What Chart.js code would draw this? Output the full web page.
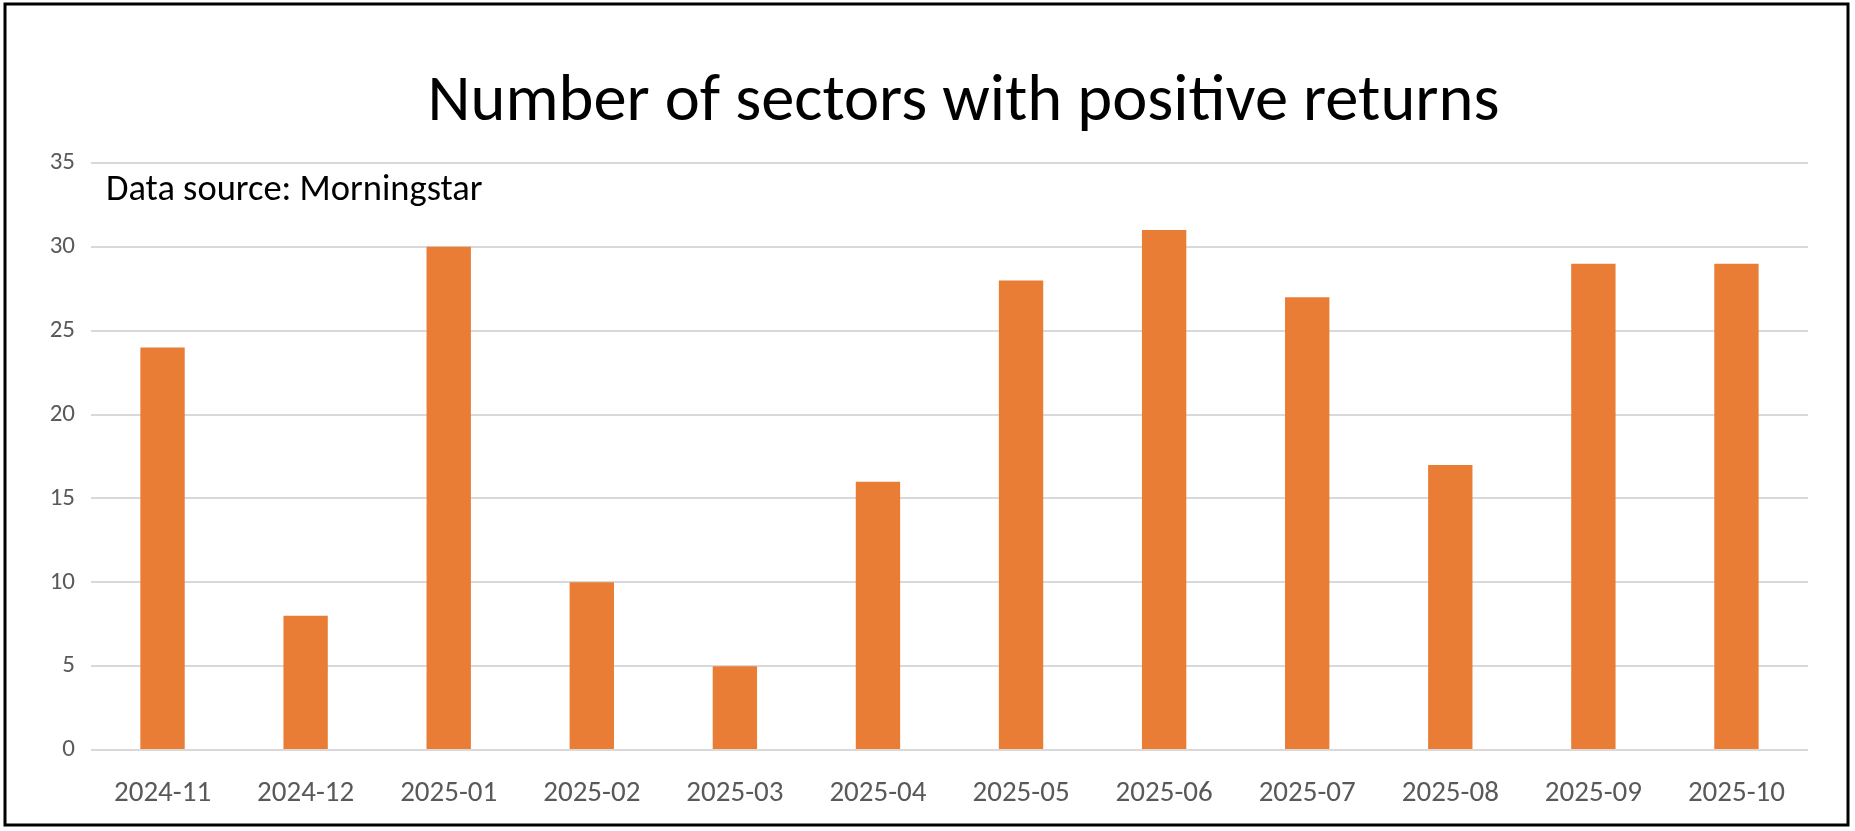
<!DOCTYPE html>
<html>
<head>
<meta charset="utf-8">
<script src="https://cdn.jsdelivr.net/npm/chart.js@4.4.0/dist/chart.umd.min.js"></script>
<style>
    html, body { margin: 0; padding: 0; background: #fff; overflow: hidden; }
    #wrap { position: absolute; left: 0; top: 0; width: 1855px; height: 831px; }
</style>
</head>
<body>
<div id="wrap"><canvas id="grafico"></canvas></div>
<script>
const months = ["2024-11", "2024-12", "2025-01", "2025-02", "2025-03", "2025-04",
                "2025-05", "2025-06", "2025-07", "2025-08", "2025-09", "2025-10"];
const positiveSectors = [24, 8, 30, 10, 5, 16, 28, 31, 27, 17, 29, 29];
const yTicks = [0, 5, 10, 15, 20, 25, 30, 35];

const titleText = "Number of sectors with positive returns";
const sourceText = "Data source: Morningstar";
const fontFamily = "Carlito, Lato, 'Open Sans', sans-serif";

// border around the whole picture, title and source note
const frame = {
    id: "frame",
    afterDraw(chart) {
        const ctx = chart.ctx;
        const area = chart.chartArea;
        ctx.save();
        ctx.strokeStyle = "#000";
        ctx.lineWidth = 3;
        ctx.strokeRect(5, 4, 1843, 821);

        ctx.fillStyle = "#000";
        ctx.textBaseline = "alphabetic";
        ctx.textAlign = "center";
        ctx.font = "66.5px " + fontFamily;
        ctx.fillText(titleText, (area.left + area.right) / 2 + 14, 120);

        ctx.textAlign = "left";
        ctx.font = "36.5px " + fontFamily;
        ctx.fillText(sourceText, 106, 200);
        ctx.restore();
    }
};

const ctx = document.getElementById("grafico").getContext("2d");
new Chart(ctx, {
    type: "bar",
    data: {
        labels: months,
        datasets: [{
            label: "Number of sectors",
            data: positiveSectors,
            backgroundColor: "#EA7D35",
            borderWidth: 0,
            barPercentage: 0.31,
            categoryPercentage: 1
        }]
    },
    options: {
        responsive: true,
        maintainAspectRatio: false,
        animation: false,
        layout: { padding: { left: 20, right: 47, top: 163, bottom: 21 } },
        plugins: {
            legend: { display: false },
            tooltip: { enabled: false },
            title: { display: false }
        },
        scales: {
            x: {
                grid: { display: false },
                border: { display: false },
                ticks: {
                    color: "#595959",
                    font: { family: fontFamily, size: 29 },
                    padding: 18,
                    maxRotation: 0
                },
                afterFit(scale) { scale.height = 60; }
            },
            y: {
                min: 0,
                max: 35,
                afterBuildTicks(scale) { scale.ticks = yTicks.map(v => ({ value: v })); },
                grid: { color: "#D9D9D9", lineWidth: 2, drawTicks: false },
                border: { display: false },
                ticks: {
                    color: "#595959",
                    font: { family: fontFamily, size: 25 },
                    padding: 16
                },
                afterFit(scale) { scale.width = 71; }
            }
        }
    },
    plugins: [frame]
});
</script>
</body>
</html>
